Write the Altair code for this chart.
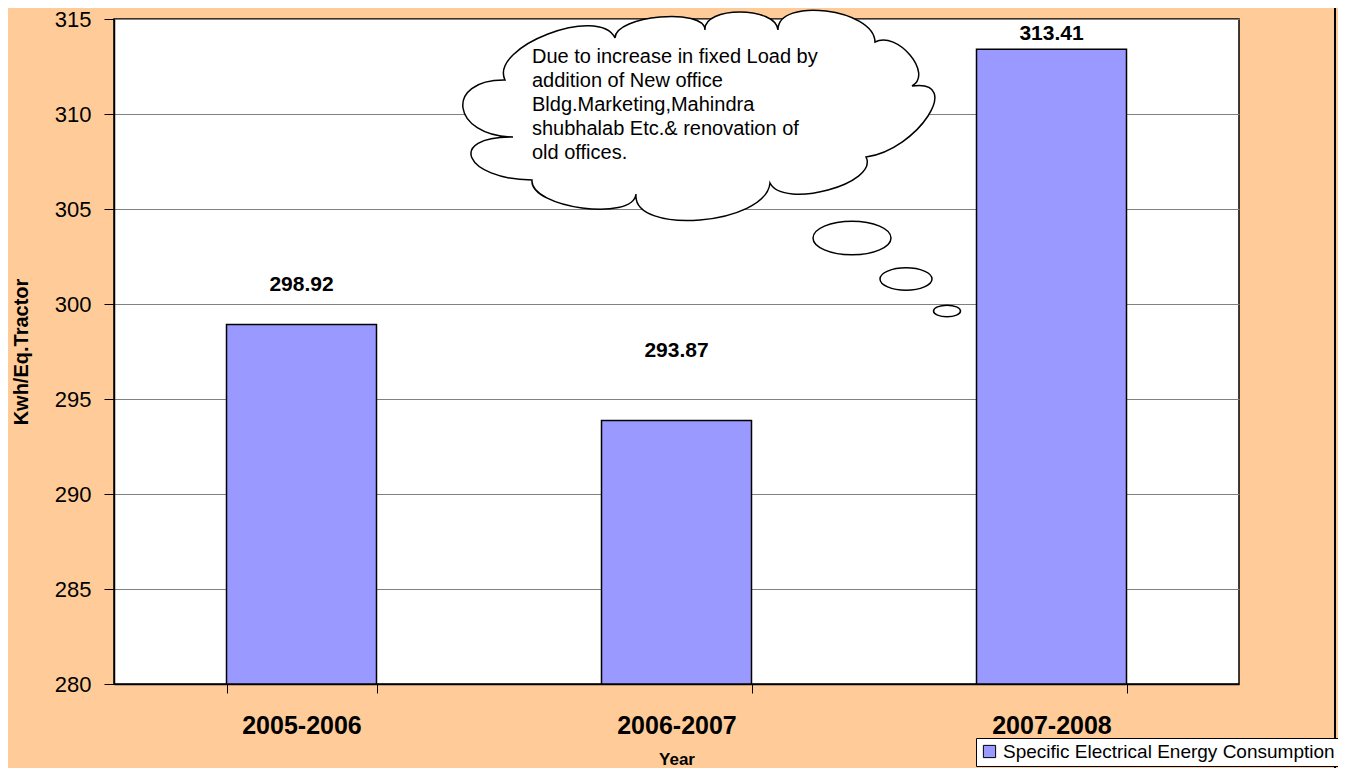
import altair as alt
import pandas as pd

# ---------------- data ----------------
YEARS = ["2005-2006", "2006-2007", "2007-2008"]
VALUES = [298.92, 293.87, 313.41]
VALUE_LABELS = ["298.92", "293.87", "313.41"]
SERIES = "Specific Electrical Energy Consumption"
Y_TICKS = [280, 285, 290, 295, 300, 305, 310, 315]
NOTE_LINES = [
    "Due to increase in fixed Load by",
    "addition of New office",
    "Bldg.Marketing,Mahindra",
    "shubhalab Etc.& renovation of",
    "old offices.",
]

# ---------------- style / layout ----------------
LABEL_DY = [-34, -63, -9]          # pixel offsets of the value labels above bar tops
FONT = "Liberation Sans"
BAR_FILL = "#9999FF"
BG = "#FFCC99"
PLOT_W, PLOT_H = 1125, 665

df = pd.DataFrame({
    "year": YEARS,
    "value": VALUES,
    "label": VALUE_LABELS,
    "series": [SERIES] * len(YEARS),
})

x_enc = alt.X(
    "year:N", sort=YEARS,
    scale=alt.Scale(paddingInner=0.6, paddingOuter=0.3),
    axis=alt.Axis(
        title="Year", labelAngle=0, labelFontSize=25, labelFontWeight="bold",
        labelPadding=20, tickSize=9, tickBand="extent", grid=False,
        titleFontSize=17, titleFontWeight="bold", titleBaseline="middle",
        titleY=75, titlePadding=0,
    ),
)
y_scale = alt.Scale(domain=[Y_TICKS[0], Y_TICKS[-1]], nice=False, zero=False)
y_enc = alt.Y(
    "value:Q", scale=y_scale,
    axis=alt.Axis(
        title="Kwh/Eq.Tractor", values=Y_TICKS, labelFontSize=22,
        labelPadding=13, tickSize=10, grid=True,
        titleFontSize=20, titleFontWeight="bold", titleX=-93, titleY=PLOT_H / 2,
        titleAngle=270, titleAlign="center", titleBaseline="middle",
    ),
)

bars = alt.Chart(df).mark_bar(stroke="black", strokeWidth=1.5).encode(
    x=x_enc,
    y=y_enc,
    y2=alt.datum(Y_TICKS[0]),
    color=alt.Color(
        "series:N",
        scale=alt.Scale(range=[BAR_FILL]),
        legend=alt.Legend(
            title=None, orient="none", legendX=862, legendY=719,
            fillColor="white", strokeColor="black", padding=4,
            labelFontSize=19, labelLimit=1000, labelOffset=4,
            symbolType="square", symbolSize=150, symbolStrokeColor="black",
            symbolStrokeWidth=1, symbolOpacity=1,
        ),
    ),
)

label_layers = []
for yr, dy in zip(YEARS, LABEL_DY):
    label_layers.append(
        alt.Chart(df).transform_filter(alt.datum.year == yr).mark_text(
            fontSize=21, fontWeight="bold", baseline="alphabetic",
            color="black", dy=dy,
        ).encode(
            x=alt.X("year:N", sort=YEARS),
            y=alt.Y("value:Q", scale=y_scale),
            text="label:N",
        )
    )

# ---------------- thought-cloud annotation ----------------
CX, CY, HW = 695.0, 116.0, 232.0
cusps = [(505, 80), (615, 38), (705, 30), (778, 30), (875, 42), (912, 86),
         (866, 157), (770, 183), (636, 194), (532, 180), (513, 137)]
peaks = [(548, 34), (660, 17), (740, 12), (826, 11), (910, 55), (928, 116),
         (828, 190), (700, 220), (582, 208), (472, 158), (463, 108)]


def n(p):
    return ((p[0] - CX) / HW, (p[1] - CY) / HW)


parts = []
a0 = n(cusps[0])
parts.append(f"M{a0[0]:.4f},{a0[1]:.4f}")
for i in range(len(cusps)):
    A = cusps[i]
    B = cusps[(i + 1) % len(cusps)]
    M = peaks[i]
    mx, my = (A[0] + B[0]) / 2, (A[1] + B[1]) / 2
    dx, dy = (M[0] - mx) / 0.75, (M[1] - my) / 0.75
    c1 = n((A[0] + dx, A[1] + dy))
    c2 = n((B[0] + dx, B[1] + dy))
    b = n(B)
    parts.append(f"C{c1[0]:.4f},{c1[1]:.4f} {c2[0]:.4f},{c2[1]:.4f} {b[0]:.4f},{b[1]:.4f}")
parts.append("Z")
CLOUD_PATH = " ".join(parts)

k, a = 0.5523, 0.43
ELLIPSE_PATH = (
    f"M-1,0 C-1,{-k*a:.4f} {-k:.4f},{-a} 0,{-a} "
    f"C{k:.4f},{-a} 1,{-k*a:.4f} 1,0 "
    f"C1,{k*a:.4f} {k:.4f},{a} 0,{a} "
    f"C{-k:.4f},{a} -1,{k*a:.4f} -1,0 Z"
)

one = alt.Data(values=[{}])
PX0, PY0 = 114, 19  # plot origin on the page

cloud = alt.Chart(one).mark_point(
    shape=CLOUD_PATH, filled=True, fill="white", stroke="black",
    strokeWidth=1.5, opacity=1, size=(2 * HW) ** 2,
).encode(x=alt.value(CX - PX0), y=alt.value(CY - PY0))

bubbles = []
for (bx, by, bw) in [(852, 238, 78), (906, 279, 52), (947, 311, 27)]:
    bubbles.append(
        alt.Chart(one).mark_point(
            shape=ELLIPSE_PATH, filled=True, fill="white", stroke="black",
            strokeWidth=1.5, opacity=1, size=bw * bw,
        ).encode(x=alt.value(bx - PX0), y=alt.value(by - PY0))
    )

note = alt.Chart(one).mark_text(
    text=NOTE_LINES, align="left", baseline="alphabetic", fontSize=20,
    lineHeight=24, color="black", font=FONT,
).encode(x=alt.value(532 - PX0), y=alt.value(63 - PY0))

border = alt.Chart(one).mark_rule(color="black", strokeWidth=2).encode(
    x=alt.value(1335 - PX0), y=alt.value(-30), y2=alt.value(800)
)

chart = alt.layer(bars, *label_layers, cloud, *bubbles, note, border).properties(
    width=PLOT_W, height=PLOT_H,
    autosize=alt.AutoSizeParams(type="none"),
    padding={"left": 106, "top": 11, "right": 99, "bottom": 84},
    background=BG,
).configure_view(
    fill="white", stroke="black", strokeWidth=1.5
).configure_axis(
    labelFont=FONT, titleFont=FONT, labelColor="black", titleColor="black",
    domainColor="black", domainWidth=1.5, tickColor="black", tickWidth=1,
    gridColor="#808080", gridWidth=1,
).configure_legend(
    labelFont=FONT, labelColor="black",
).configure_text(font=FONT)

chart.save("out.html", embed_options={"renderer": "svg", "actions": False})
